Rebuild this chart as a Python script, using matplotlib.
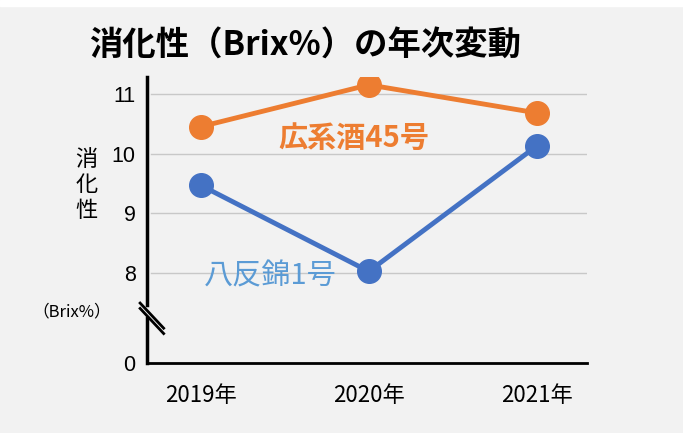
import matplotlib.pyplot as plt

plt.rcParams['font.family'] = ['Noto Sans CJK JP', 'DejaVu Sans']

years = ["2019年", "2020年", "2021年"]
hiro = [10.45, 11.15, 10.68]      # 広系酒45号
hattan = [9.47, 8.03, 10.13]      # 八反錦1号
yticks = [8, 9, 10, 11]
zero_pos = 6.5  # where "0" sits after the axis break

bg = "#f2f2f2"
fig = plt.figure(figsize=(6.83, 4.33), dpi=100)
fig.patch.set_facecolor(bg)
fig.add_artist(plt.Rectangle((0, 0.985), 1, 0.015, transform=fig.transFigure, color="white"))

ax = fig.add_axes([0.215, 0.162, 0.645, 0.66])
ax.set_facecolor(bg)
x = range(len(years))

ax.plot(x, hiro, color="#ed7d31", lw=3.5, marker="o", ms=17, zorder=3)
ax.plot(x, hattan, color="#4472c4", lw=3.5, marker="o", ms=17, zorder=3)

ax.set_xlim(-0.32, 2.3)
ax.set_ylim(zero_pos, 11.28)
for t in yticks:
    ax.axhline(t, xmin=0.01, color="#c8c8c8", lw=1, zorder=1)

ax.set_yticks([zero_pos] + yticks)
ax.set_yticklabels(["0"] + [str(t) for t in yticks], fontsize=15.5, family="Liberation Sans")
ax.set_xticks(list(x))
ax.set_xticklabels(years, fontsize=16)
ax.tick_params(length=0, pad=8)
ax.tick_params(axis="x", pad=15)

for s in ["top", "right", "left"]:
    ax.spines[s].set_visible(False)
ax.spines["bottom"].set_linewidth(2)

# broken y axis
ax.plot([-0.32, -0.32], [zero_pos, 7.25], color="black", lw=2.5, clip_on=False, zorder=4)
ax.plot([-0.32, -0.32], [7.47, 11.28], color="black", lw=2.5, clip_on=False, zorder=4)
for dy in (0, 0.09):
    ax.plot([-0.36, -0.22], [7.5 - dy, 7.08 - dy], color="black", lw=2, clip_on=False, zorder=5)

ax.text(0.46, 10.27, "広系酒45号", color="#ed7d31", fontsize=21, fontweight="bold", va="center")
ax.text(0.02, 7.95, "八反錦1号", color="#5b9bd5", fontsize=21, va="center")

fig.text(0.127, 0.573, "消\n化\n性", fontsize=16, ha="center", va="center", linespacing=1.15)
fig.text(0.105, 0.279, "（Brix%）", fontsize=12, ha="center", va="center")
fig.text(0.13, 0.894, "消化性（Brix%）の年次変動", fontsize=24, fontweight="bold", ha="left", va="center")

fig.savefig("out.png", dpi=100, facecolor=bg)
